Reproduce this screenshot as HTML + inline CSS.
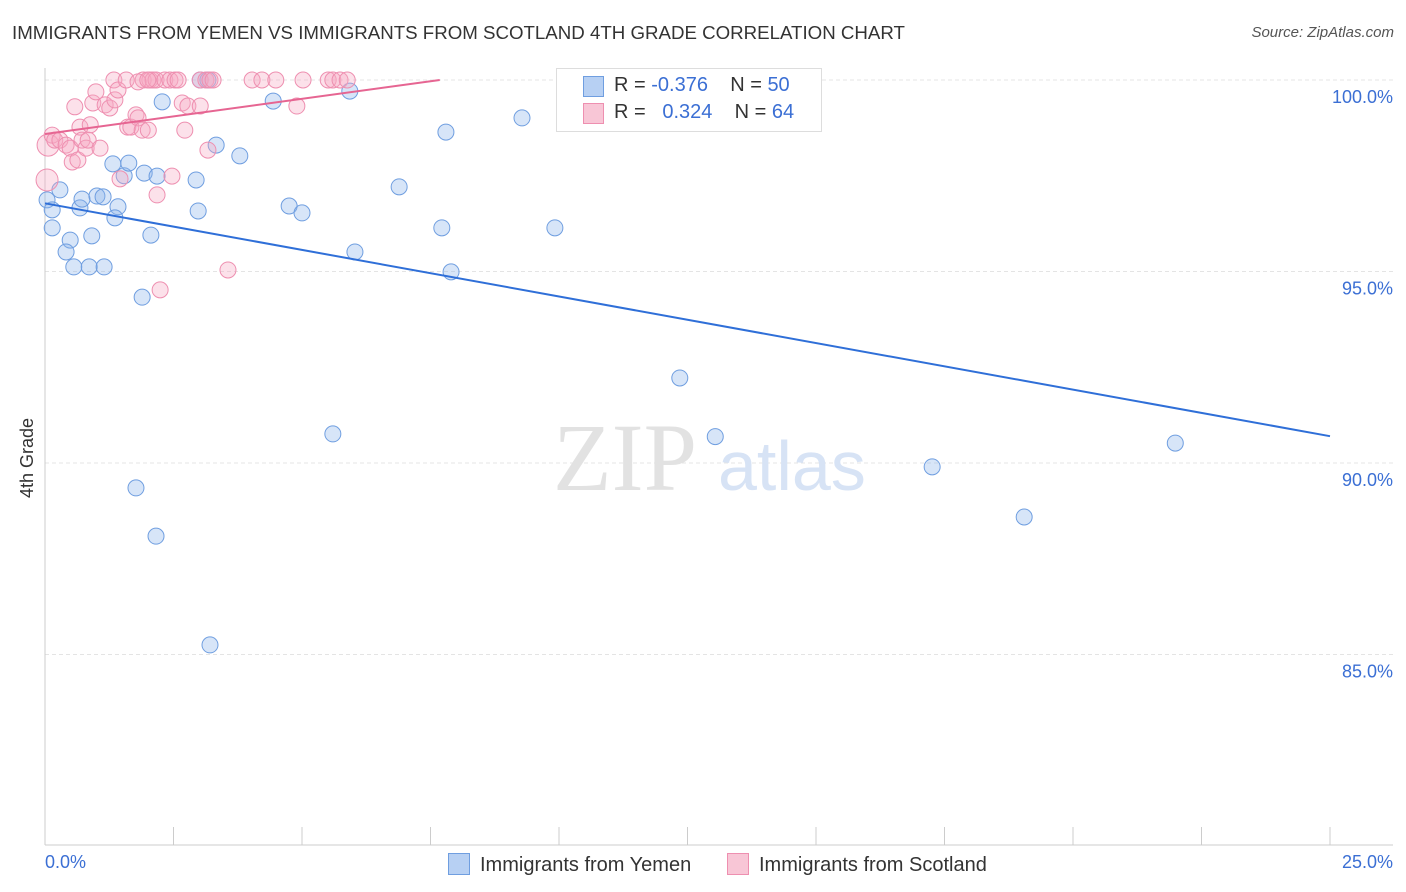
<!DOCTYPE html>
<html><head><meta charset="utf-8">
<style>
body{margin:0;background:#fff;font-family:"Liberation Sans",sans-serif;}
#wrap{position:relative;width:1406px;height:892px;overflow:hidden;}
.t{position:absolute;white-space:nowrap;}
</style></head>
<body>
<div id="wrap">
<div class="t" style="left:12px;top:22px;font-size:18.7px;color:#333;">IMMIGRANTS FROM YEMEN VS IMMIGRANTS FROM SCOTLAND 4TH GRADE CORRELATION CHART</div>
<div class="t" style="right:12px;top:24px;font-size:15px;color:#555;font-style:italic;">Source: ZipAtlas.com</div>
<svg id="svg" width="1406" height="892" style="position:absolute;left:0;top:0;"></svg>
</div>
<script>
const yTicks=[100,95,90,85];
const xTickLabels=["0.0%","25.0%"];
const blueX=[0.04,0.14,0.14,0.29,0.49,0.41,0.56,0.86,1.15,0.68,0.72,0.91,1.01,1.13,1.32,1.42,1.36,1.54,1.63,1.89,1.93,2.06,2.18,1.77,2.16,2.28,2.94,2.98,3.02,3.17,3.33,3.21,3.79,4.44,4.75,5.0,5.6,5.93,6.03,6.89,7.72,7.80,7.90,9.28,9.92,12.35,13.04,17.26,19.05,21.99];
const blueY=[96.87,96.61,96.14,97.13,95.82,95.51,95.12,95.12,95.12,96.66,96.89,95.93,96.97,96.95,97.81,96.69,96.40,97.50,97.83,94.33,97.57,95.95,97.49,89.35,88.09,99.43,97.39,96.58,100,100,98.30,85.25,98.02,99.45,96.71,96.53,90.76,99.71,95.51,97.21,96.14,98.64,94.99,99.01,96.14,92.22,90.69,89.90,88.59,90.52];
const pinkX=[0.04,0.06,0.14,0.19,0.29,0.41,0.49,0.53,0.58,0.64,0.68,0.72,0.80,0.84,0.88,0.93,0.99,1.07,1.17,1.26,1.34,1.36,1.42,1.46,1.58,1.61,1.67,1.77,1.81,1.89,1.91,2.01,2.04,2.10,2.16,2.18,2.24,2.33,2.43,2.47,2.53,2.59,2.67,2.72,2.78,3.02,3.13,3.21,3.17,3.27,3.56,4.03,4.22,4.49,4.90,5.02,5.51,5.60,5.74,5.88,11.89,1.81,3.02,2.0];
const pinkY=[97.39,98.30,98.56,98.43,98.43,98.30,98.22,97.86,99.30,97.91,98.77,98.43,98.22,98.43,98.83,99.40,99.69,98.22,99.35,99.27,100,99.48,99.74,97.42,100,98.77,98.77,99.09,99.01,98.69,100,98.69,100,100,100,97.00,94.52,100,100,97.49,100,100,99.40,98.69,99.32,100,100,100,98.17,100,95.04,100,100,100,99.32,100,100,100,100,100,100,99.95,99.32,100];
const NS="http://www.w3.org/2000/svg";
const svg=document.getElementById('svg');
const X=v=>45+v*51.4, Y=v=>80+(100-v)*38.3;
function mk(tag,attrs){const e=document.createElementNS(NS,tag);for(const k in attrs)e.setAttribute(k,attrs[k]);svg.appendChild(e);return e;}
yTicks.forEach(v=>{const g=mk('line',{x1:45,x2:1393,y1:Y(v),y2:Y(v),stroke:'#e4e4e4','stroke-dasharray':'4,3'});


const t=mk('text',{x:1393,y:Y(v)+23,'text-anchor':'end','font-size':18,fill:'#3b6fd4','font-family':'Liberation Sans'});t.textContent=v.toFixed(1)+'%';

});
const ax=mk('line',{x1:45,x2:1393,y1:845,y2:845,stroke:'#ccc'});


const ay=mk('line',{x1:45,x2:45,y1:68,y2:845,stroke:'#ccc'});


for(let i=0;i<=10;i++){const tk=mk('line',{x1:X(i*2.5),x2:X(i*2.5),y1:827,y2:845,stroke:'#ccc'});

}
const w1=mk('text',{x:553,y:490,'font-size':96,fill:'#e2e2e2','font-family':'Liberation Serif'});w1.textContent='ZIP';


const w2=mk('text',{x:718,y:490,'font-size':70,fill:'#d7e3f5','font-family':'Liberation Sans'});w2.textContent='atlas';


blueX.forEach((v,i)=>{const c=mk('circle',{cx:X(v),cy:Y(blueY[i]),r:8,fill:'rgba(140,180,235,0.35)',stroke:'#6f9ee0','stroke-width':1});

});
pinkX.forEach((v,i)=>{const c=mk('circle',{cx:X(v),cy:Y(pinkY[i]),r:(i<2?11:8),fill:'rgba(245,170,195,0.35)',stroke:'#ee8fb0','stroke-width':1});

});
const bl=mk('line',{x1:X(0),y1:Y(96.78),x2:X(25),y2:Y(90.70),stroke:'#2f6fd8','stroke-width':2});


const pl=mk('line',{x1:X(0),y1:Y(98.59),x2:X(7.68),y2:Y(100),stroke:'#e66592','stroke-width':2});


</script>
<div class="t" style="left:45px;top:852px;font-size:18px;color:#3b6fd4;">0.0%</div>
<div class="t" style="right:13px;top:852px;font-size:18px;color:#3b6fd4;">25.0%</div>
<div class="t" style="left:17px;top:498px;font-size:18px;color:#333;transform:rotate(-90deg);transform-origin:left top;">4th Grade</div>
<div style="position:absolute;left:556px;top:68px;width:264px;height:62px;border:1px solid #ddd;background:#fff;font-size:20px;">
<div style="position:absolute;left:26px;top:7px;width:19px;height:19px;background:#b7d0f3;border:1px solid #6f9ee0;"></div>
<div class="t" style="left:57px;top:5px;color:#333;">R = <span style="color:#3b6fd4">-0.376</span>&nbsp;&nbsp;&nbsp;&nbsp;N = <span style="color:#3b6fd4">50</span></div>
<div style="position:absolute;left:26px;top:34px;width:19px;height:19px;background:#f8c6d6;border:1px solid #ee8fb0;"></div>
<div class="t" style="left:57px;top:32px;color:#333;">R = &nbsp;&nbsp;<span style="color:#3b6fd4">0.324</span>&nbsp;&nbsp;&nbsp;&nbsp;N = <span style="color:#3b6fd4">64</span></div>
</div>
<div style="position:absolute;left:448px;top:853px;font-size:20px;color:#333;">
<span style="display:inline-block;width:20px;height:20px;background:#b7d0f3;border:1px solid #6f9ee0;vertical-align:-4px;margin-right:10px;"></span>Immigrants from Yemen</div>
<div style="position:absolute;left:727px;top:853px;font-size:20px;color:#333;">
<span style="display:inline-block;width:20px;height:20px;background:#f8c6d6;border:1px solid #ee8fb0;vertical-align:-4px;margin-right:10px;"></span>Immigrants from Scotland</div>
</body></html>
